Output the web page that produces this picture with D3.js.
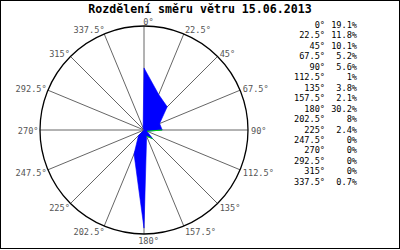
<!DOCTYPE html>
<html><head><meta charset="utf-8">
<script src="https://cdn.jsdelivr.net/npm/d3@7"></script>
<style>html,body{margin:0;padding:0;background:#fff}svg{display:block}</style>
</head><body>
<svg id="c" width="400" height="250"></svg>
<script>
const title = "Rozdělení směru větru 15.06.2013";
const directions = [0, 22.5, 45, 67.5, 90, 112.5, 135, 157.5, 180, 202.5, 225, 247.5, 270, 292.5, 315, 337.5];
const dirLabels = ["0°","22.5°","45°","67.5°","90°","112.5°","135°","157.5°","180°","202.5°","225°","247.5°","270°","292.5°","315°","337.5°"];
const values = [19.1, 11.8, 10.1, 5.2, 5.6, 1, 3.8, 2.1, 30.2, 8, 2.4, 0, 0, 0, 0, 0.7];
const valueLabels = ["19.1%","11.8%","10.1%","5.2%","5.6%","1%","3.8%","2.1%","30.2%","8%","2.4%","0%","0%","0%","0%","0.7%"];

const svg = d3.select("#c");
const cx = 144, cy = 130, R = 104;
const r = d3.scaleLinear().domain([0, 32]).range([0, R]);
const ang = d3.scaleLinear().domain([0, 360]).range([0, 2 * Math.PI]);
const mono = "'DejaVu Sans Mono', 'Liberation Mono', monospace";

svg.append("rect").attr("x", 0.5).attr("y", 0.5).attr("width", 399).attr("height", 248)
  .attr("fill", "#fff").attr("stroke", "#000").attr("stroke-width", 1);

svg.append("text").attr("x", 200).attr("y", 13).attr("text-anchor", "middle")
  .attr("font-family", mono).attr("font-weight", "bold").attr("font-size", 11.6)
  .attr("fill", "#000").text(title);

const g = svg.append("g").attr("transform", `translate(${cx},${cy})`);

// spokes
g.selectAll("line.spoke").data(directions).join("line").attr("class", "spoke")
  .attr("x1", 0).attr("y1", 0)
  .attr("x2", d => R * Math.sin(ang(d)))
  .attr("y2", d => -R * Math.cos(ang(d)))
  .attr("stroke", "#666").attr("stroke-width", 1);

g.append("circle").attr("r", R).attr("fill", "none").attr("stroke", "#000").attr("stroke-width", 1.3);

// direction labels
g.selectAll("text.dl").data(directions).join("text").attr("class", "dl")
  .attr("font-family", mono).attr("font-size", 8.6).attr("fill", "#555")
  .attr("text-anchor", d => {
    const s = Math.sin(ang(d));
    if (Math.abs(s) < 0.01) return "middle";
    return s > 0 ? "start" : "end";
  })
  .attr("x", d => {
    const s = Math.sin(ang(d));
    const px = R * s;
    if (Math.abs(s) < 0.01) return px + 4.5;
    return s > 0 ? px + 3 * s : px + 3 * s + 1.5;
  })
  .attr("y", d => -R * Math.cos(ang(d)) + 1 - 5.5 * Math.cos(ang(d)))
  .attr("dy", "0.35em")
  .text((d, i) => dirLabels[i]);

// rose polygon
const pts = directions.map((d, i) => [ang(d), r(values[i])]);
const line = d3.lineRadial().angle(d => d[0]).radius(d => d[1]).curve(d3.curveLinearClosed);
g.append("path").attr("d", line(pts)).attr("fill", "#0000ff").attr("stroke", "#0000ff").attr("stroke-width", 0.6);

// green outline fragments on thin edges
const edge = d3.lineRadial().angle(d => d[0]).radius(d => d[1]);
[[4, 5], [6, 7]].forEach(([a, b]) => {
  g.append("path").attr("d", edge([pts[a], pts[b]])).attr("fill", "none")
    .attr("stroke", "#00dd00").attr("stroke-width", 1);
});

// legend
const ly0 = 25, ldy = 10.45;
const leg = svg.append("g").attr("font-family", mono).attr("font-size", 8.6).attr("fill", "#000");
leg.selectAll("text.la").data(dirLabels).join("text").attr("class", "la")
  .attr("x", 325).attr("y", (d, i) => ly0 + i * ldy).attr("dy", "0.35em")
  .attr("text-anchor", "end").text(d => d);
leg.selectAll("text.lv").data(valueLabels).join("text").attr("class", "lv")
  .attr("x", 357).attr("y", (d, i) => ly0 + i * ldy).attr("dy", "0.35em")
  .attr("text-anchor", "end").text(d => d);
</script>
</body></html>
